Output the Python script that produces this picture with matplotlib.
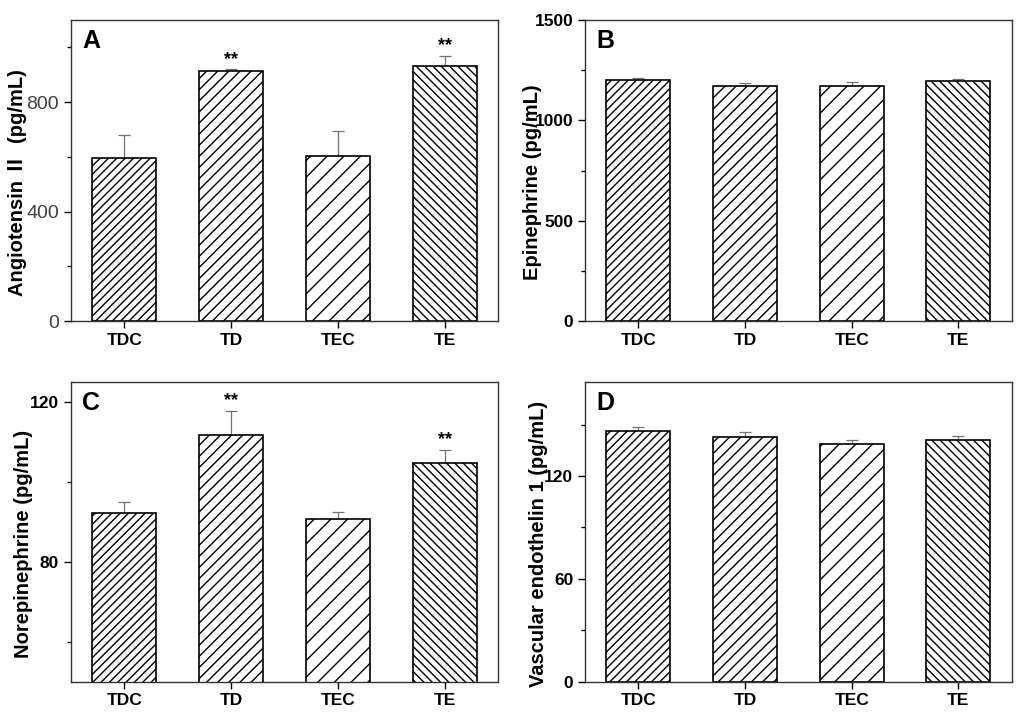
import matplotlib
matplotlib.use('Agg')
import matplotlib.pyplot as plt
from matplotlib.ticker import MultipleLocator
import numpy as np

plt.rcParams['font.family'] = ['Liberation Sans', 'Noto Sans CJK SC', 'DejaVu Sans']
plt.rcParams['hatch.linewidth'] = 1.0

groups = ['TDC', 'TD', 'TEC', 'TE']
hatches = ['////', '///', '//', '\\\\\\\\']

# panel A - angiotensin II
ang_mean = [596, 913, 604, 934]
ang_err = [84, 8, 91, 35]
ang_sig = ['', '**', '', '**']

# panel B - epinephrine
epi_mean = [1200, 1172, 1174, 1198]
epi_err = [10, 13, 19, 7]
epi_sig = ['', '', '', '']

# panel C - norepinephrine
ne_mean = [92.1, 111.7, 90.6, 104.6]
ne_err = [2.8, 6.0, 1.8, 3.4]
ne_sig = ['', '**', '', '**']

# panel D - vascular endothelin 1
et_mean = [146.1, 142.8, 138.7, 140.7]
et_err = [2.6, 2.9, 2.2, 2.5]
et_sig = ['', '', '', '']

panels = [
    # letter, mean, err, sig, ylabel, ylim, major, minor, axes rect, label x, bold ticks
    ('A', ang_mean, ang_err, ang_sig, 'Angiotensin Ⅱ  (pg/mL)', (0, 1100), 400, 200,
     [0.0693, 0.549, 0.417, 0.4228], -0.103, False),
    ('B', epi_mean, epi_err, epi_sig, 'Epinephrine (pg/mL)', (0, 1500), 500, 250,
     [0.5713, 0.549, 0.4167, 0.4228], -0.101, True),
    ('C', ne_mean, ne_err, ne_sig, 'Norepinephrine (pg/mL)', (50, 125), 40, 20,
     [0.0693, 0.0426, 0.417, 0.4213], -0.089, True),
    ('D', et_mean, et_err, et_sig, 'Vascular endothelin 1 (pg/mL)', (0, 175), 60, 30,
     [0.5713, 0.0426, 0.4167, 0.4213], -0.087, True),
]

fig = plt.figure(figsize=(10.24, 7.12), dpi=100)
x = np.arange(1, len(groups) + 1)

for letter, mean, err, sig, ylabel, ylim, major, minor, rect, labx, boldticks in panels:
    ax = fig.add_axes(rect)
    ax.bar(x, mean, width=0.6, color='white', edgecolor='black',
           linewidth=1.2, hatch=hatches, zorder=2)
    ax.errorbar(x, mean, yerr=[np.zeros(len(err)), err], fmt='none',
                ecolor='0.45', elinewidth=0.9, capsize=4, capthick=0.9, zorder=1)
    for xi, m, e, s in zip(x, mean, err, sig):
        if s:
            ax.annotate(s, (xi, m + e), xytext=(0, 1), textcoords='offset points',
                        ha='center', va='bottom', fontsize=13, fontweight='bold')
    ax.set_xlim(0.5, 4.5)
    ax.set_ylim(*ylim)
    ax.yaxis.set_major_locator(MultipleLocator(major))
    ax.yaxis.set_minor_locator(MultipleLocator(minor))
    ax.set_xticks(x)
    ax.set_xticklabels(groups, fontsize=12.5, fontweight='bold')
    ax.tick_params(axis='both', which='major', direction='out', length=5, width=1,
                   top=False, right=False)
    ax.tick_params(axis='y', which='minor', direction='out', length=3, width=1)
    if boldticks:
        ax.tick_params(axis='y', labelsize=12.5)
    else:
        ax.tick_params(axis='y', labelsize=14, labelcolor='0.25')
    for lab in ax.get_yticklabels():
        if boldticks:
            lab.set_fontweight('bold')
    for sp in ax.spines.values():
        sp.set_linewidth(1.0)
        sp.set_color('0.2')
    ax.set_ylabel(ylabel, fontsize=14.5, fontweight='bold')
    ax.yaxis.set_label_coords(labx, 0.46)
    ax.text(0.047, 0.93, letter, transform=ax.transAxes, fontsize=18,
            fontweight='bold', ha='center', va='center')

fig.savefig('out.png', dpi=100)
